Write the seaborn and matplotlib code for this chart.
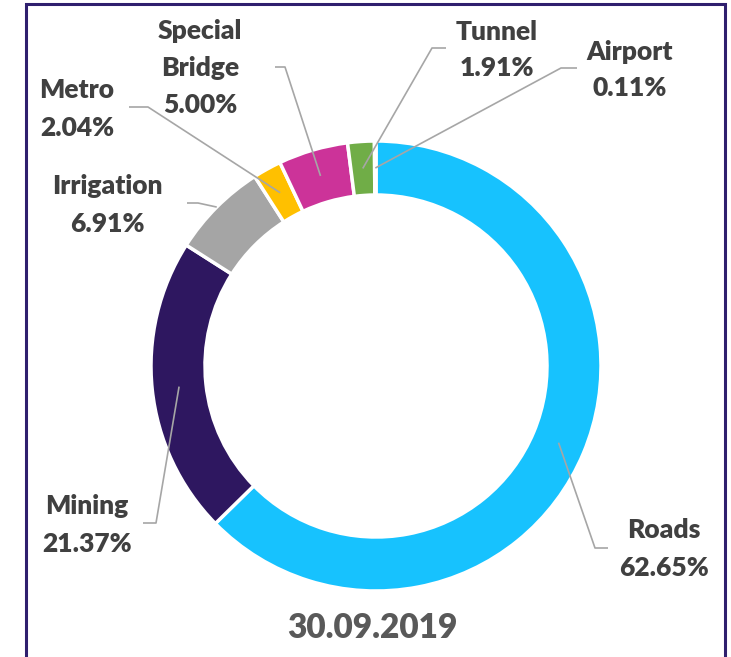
import matplotlib.pyplot as plt
import seaborn as sns
from matplotlib.patches import Rectangle
import numpy as np

# data
categories = ["Roads", "Mining", "Irrigation", "Metro", "Special\nBridge", "Tunnel", "Airport"]
shares = [62.65, 21.37, 6.91, 2.04, 5.00, 1.91, 0.11]
share_labels = ["62.65%", "21.37%", "6.91%", "2.04%", "5.00%", "1.91%", "0.11%"]
title = "30.09.2019"

colors = ["#17C2FE", "#2E1760", "#A5A5A5", "#FFC000", "#CC3399", "#70AD47", "#4472C4"]

W, H = 731, 657
CX, CY = 376, 366      # donut centre (pixels from top-left)
R_OUT, RING = 225, 54


def px(x, y):
    """pixel (from top-left) -> data coords"""
    return x, H - y


# label layout: text centre, line end near text, elbow, anchor position in ring
label_pos = [(664, 549), (87, 525), (107, 205), (77, 109), (200, 68), (497, 50), (630, 70)]
line_end = [(608, 548), (143, 523), (187, 203), (129, 107), (275, 67), (446, 48), (577, 68)]
line_elbow = [(595, 548), (156, 523), (198, 203), (148, 107), (285, 67), (432, 48), (561, 68)]
anchor_r = [0.5, 0.5, 1.0, 0.5, 0.5, 0.5, 0.5]  # fraction of ring width from inner edge

sns.set_theme(style="white")
plt.rcParams["font.family"] = ["Lato", "DejaVu Sans"]

fig = plt.figure(figsize=(W / 100, H / 100), dpi=100)
ax = fig.add_axes([0, 0, 1, 1])

wedges, _ = ax.pie(
    shares,
    colors=colors,
    startangle=90,
    counterclock=False,
    radius=R_OUT,
    center=px(CX, CY),
    wedgeprops=dict(width=RING, edgecolor="white", linewidth=2.5),
)

cx, cy = px(CX, CY)
for i, w in enumerate(wedges):
    mid = np.deg2rad((w.theta1 + w.theta2) / 2)
    r = R_OUT - RING + RING * anchor_r[i]
    ax_pt = (cx + r * np.cos(mid), cy + r * np.sin(mid))
    ex, ey = px(*line_end[i])
    bx, by = px(*line_elbow[i])
    ax.plot([ex, bx, ax_pt[0]], [ey, by, ax_pt[1]], color="#A6A6A6", lw=1.2,
            solid_capstyle="butt", zorder=5)
    tx, ty = px(*label_pos[i])
    ax.text(tx, ty, f"{categories[i]}\n{share_labels[i]}", ha="center", va="center",
            fontsize=19, fontweight="heavy", color="#404040", linespacing=1.65)

tx, ty = px(372, 628)
ax.text(tx, ty, title, ha="center", va="center", fontsize=24, fontweight="heavy",
        color="#595959")

# frame
ax.add_patch(Rectangle((26, -20), 699, H - 4 + 20, fill=False, edgecolor="#2F1F6E",
                       linewidth=2.2, zorder=6))

ax.set_xlim(0, W)
ax.set_ylim(0, H)
ax.set_aspect("equal")
ax.axis("off")

fig.savefig("out.png", dpi=100, facecolor="white")
plt.close(fig)
